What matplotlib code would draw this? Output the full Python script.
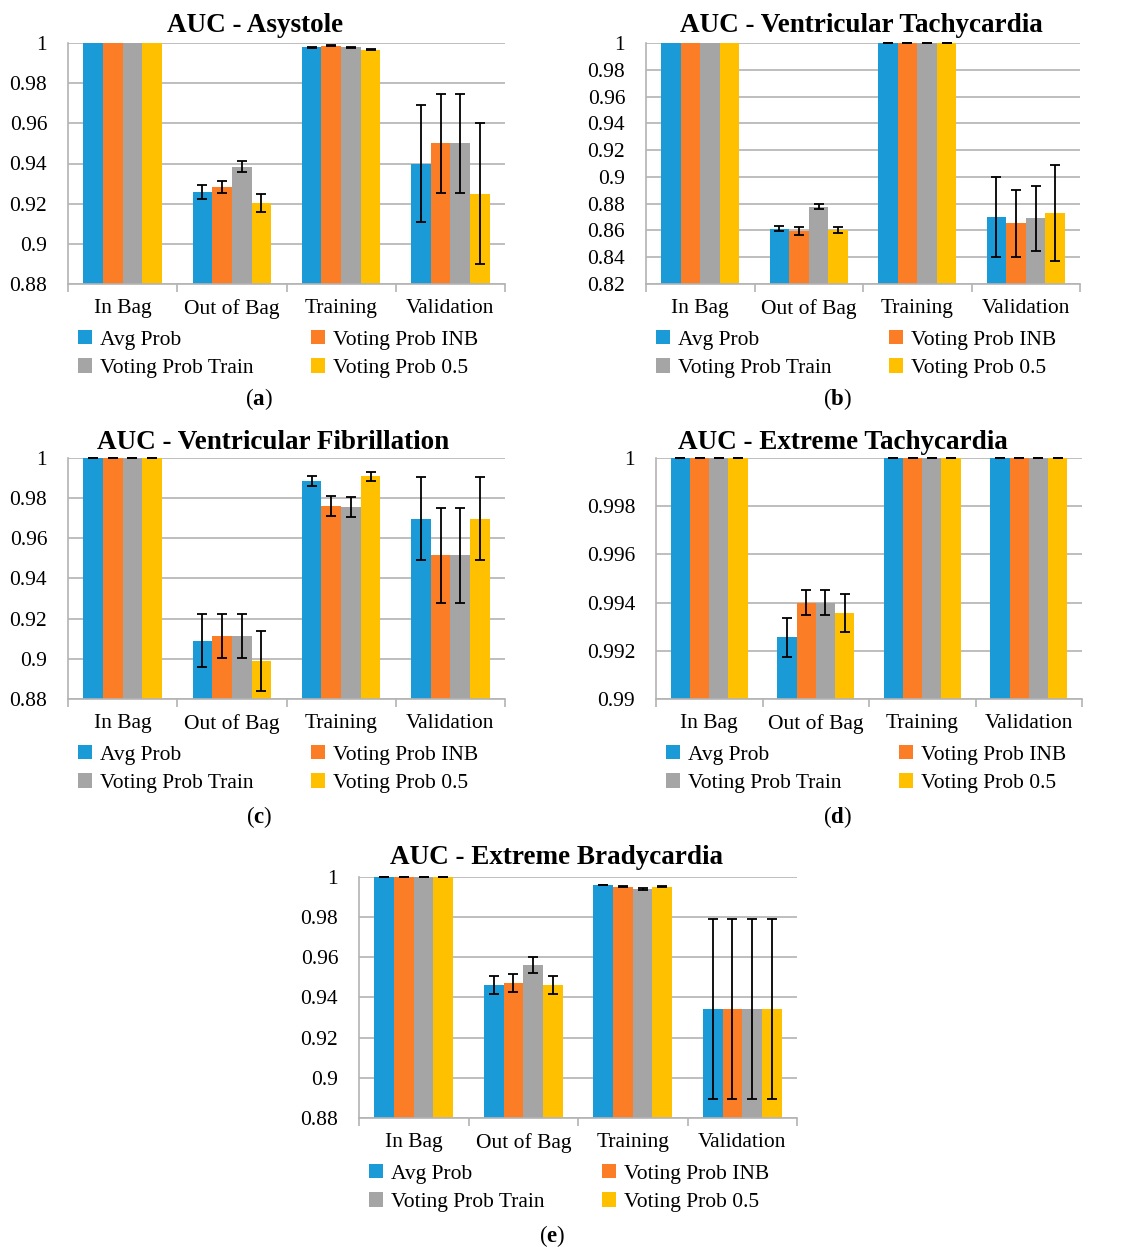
import matplotlib.pyplot as plt
from matplotlib.ticker import FixedLocator, FuncFormatter
import numpy as np

plt.rcParams['font.family'] = ['Liberation Serif', 'DejaVu Serif']
plt.rcParams['mathtext.fontset'] = 'custom'
plt.rcParams['mathtext.rm'] = 'Liberation Serif'
plt.rcParams['mathtext.bf'] = 'Liberation Serif:bold'

W, H = 1125, 1247

categories = ['In Bag', 'Out of Bag', 'Training', 'Validation']
series = ['Avg Prob', 'Voting Prob INB', 'Voting Prob Train', 'Voting Prob 0.5']
colors = ['#1A9AD6', '#FB7D26', '#A5A5A5', '#FFC000']

# mean AUC per series (rows) and category (columns); err = half-width, None = no bar
asys_auc = [[1.0, 0.926, 0.9978, 0.940],
            [1.0, 0.9285, 0.9987, 0.950],
            [1.0, 0.9385, 0.9978, 0.950],
            [1.0, 0.9205, 0.9967, 0.925]]
asys_err = [[None, 0.0035, 0.0002, 0.029],
            [None, 0.003, 0.0002, 0.0245],
            [None, 0.0025, 0.0002, 0.0245],
            [None, 0.0045, 0.0002, 0.035]]

vt_auc = [[1.0, 0.8613, 1.0, 0.870],
          [1.0, 0.8595, 1.0, 0.8655],
          [1.0, 0.8778, 1.0, 0.869],
          [1.0, 0.8605, 1.0, 0.873]]
vt_err = [[None, 0.0017, 0.0, 0.030],
          [None, 0.0027, 0.0, 0.025],
          [None, 0.0018, 0.0, 0.0245],
          [None, 0.0023, 0.0, 0.0356]]

vf_auc = [[1.0, 0.909, 0.9887, 0.9697],
          [1.0, 0.9112, 0.9762, 0.9515],
          [1.0, 0.9112, 0.9757, 0.9515],
          [1.0, 0.8988, 0.9908, 0.9697]]
vf_err = [[0.0, 0.0132, 0.0025, 0.0207],
          [0.0, 0.011, 0.005, 0.0237],
          [0.0, 0.011, 0.005, 0.0237],
          [0.0, 0.015, 0.0022, 0.0207]]

et_auc = [[1.0, 0.99256, 1.0, 1.0],
          [1.0, 0.994, 1.0, 1.0],
          [1.0, 0.994, 1.0, 1.0],
          [1.0, 0.99358, 1.0, 1.0]]
et_err = [[0.0, 0.0008, 0.0, 0.0],
          [0.0, 0.00052, 0.0, 0.0],
          [0.0, 0.00052, 0.0, 0.0],
          [0.0, 0.00078, 0.0, 0.0]]

eb_auc = [[1.0, 0.9462, 0.996, 0.9345],
          [1.0, 0.9472, 0.9952, 0.9345],
          [1.0, 0.9563, 0.994, 0.9345],
          [1.0, 0.9462, 0.9952, 0.9345]]
eb_err = [[0.0, 0.0045, 0.0002, 0.0448],
          [0.0, 0.0047, 0.0002, 0.0448],
          [0.0, 0.004, 0.0003, 0.0448],
          [0.0, 0.0045, 0.0002, 0.0448]]

titles = ['AUC - Asystole', 'AUC - Ventricular Tachycardia',
          'AUC - Ventricular Fibrillation', 'AUC - Extreme Tachycardia',
          'AUC - Extreme Bradycardia']
panel_letters = ['a', 'b', 'c', 'd', 'e']
y_ranges = [(0.88, 1.0, 0.02), (0.82, 1.0, 0.02), (0.88, 1.0, 0.02),
            (0.99, 1.0, 0.002), (0.88, 1.0, 0.02)]

GRID = '#B3B3B3'
FS = 15.5


def fx(x):
    return x / W


def fy(y):
    return 1 - y / H


def draw_panel(fig, box, title_xy, label_xy, title, letter, auc, err, yr):
    left, top, right, bottom = box
    ax = fig.add_axes([fx(left), fy(bottom), (right - left) / W, (bottom - top) / H])
    ymin, ymax, step = yr
    x = np.arange(len(categories))
    w = 0.18
    for i, name in enumerate(series):
        pos = x + (i - 1.5) * w
        ax.bar(pos, auc[i], width=w, color=colors[i], label=name, zorder=2)
        for p, v, e in zip(pos, auc[i], err[i]):
            if e is None:
                continue
            ax.errorbar(p, v, yerr=e, color='black', lw=1.3, capsize=3.8,
                        capthick=1.3, zorder=3, clip_on=False)

    ax.set_xlim(-0.5, len(categories) - 0.5)
    ax.set_ylim(ymin, ymax)
    ticks = np.arange(ymin, ymax + step / 2, step)
    ax.yaxis.set_major_locator(FixedLocator(ticks))
    ax.yaxis.set_major_formatter(FuncFormatter(lambda v, _: f'{round(v, 4):g}'))
    ax.yaxis.grid(True, color=GRID, lw=1.2, zorder=0)
    ax.set_axisbelow(True)

    ax.set_xticks(x)
    ax.set_xticklabels(categories)
    ax.set_xticks(np.arange(-0.5, len(categories)), minor=True)
    ax.tick_params(axis='x', which='major', length=0, pad=11, labelsize=FS)
    ax.tick_params(axis='x', which='minor', length=6, width=1.2, color=GRID)
    ax.tick_params(axis='y', length=0, pad=15, labelsize=FS)

    for s in ['top', 'right']:
        ax.spines[s].set_visible(False)
    for s in ['left', 'bottom']:
        ax.spines[s].set_color(GRID)
        ax.spines[s].set_linewidth(1.2)

    # legend below the categories, two per row
    h, l = ax.get_legend_handles_labels()
    order = [0, 2, 1, 3]
    ax.legend([h[k] for k in order], [l[k] for k in order], ncol=2,
              loc='upper left', bbox_to_anchor=(fx(left + 10), fy(bottom + 46)),
              bbox_transform=fig.transFigure, frameon=False, fontsize=FS,
              handlelength=0.65, handleheight=0.65, handletextpad=0.35,
              columnspacing=2.7, labelspacing=0.4, borderpad=0, borderaxespad=0)

    fig.text(fx(title_xy[0]), fy(title_xy[1]), title, fontsize=19.5,
             fontweight='bold', ha='center', va='center')
    fig.text(fx(label_xy[0]), fy(label_xy[1]), '(' + r'$\mathbf{' + letter + '}$' + ')',
             fontsize=16.5, ha='center', va='center')
    return ax


fig = plt.figure(figsize=(W / 100, H / 100), dpi=100)

boxes = [(68, 43, 505, 284), (646, 43, 1080, 284), (68, 458, 505, 699),
         (656, 458, 1082, 699), (359, 877, 797, 1118)]
title_pos = [(255, 25), (861, 25), (273, 442), (843, 442), (557, 858)]
label_pos = [(259, 399), (837, 399), (259, 817), (837, 817), (552, 1236)]
all_auc = [asys_auc, vt_auc, vf_auc, et_auc, eb_auc]
all_err = [asys_err, vt_err, vf_err, et_err, eb_err]

for k in range(5):
    draw_panel(fig, boxes[k], title_pos[k], label_pos[k], titles[k],
               panel_letters[k], all_auc[k], all_err[k], y_ranges[k])

plt.savefig('out.png', dpi=100)
plt.close()
